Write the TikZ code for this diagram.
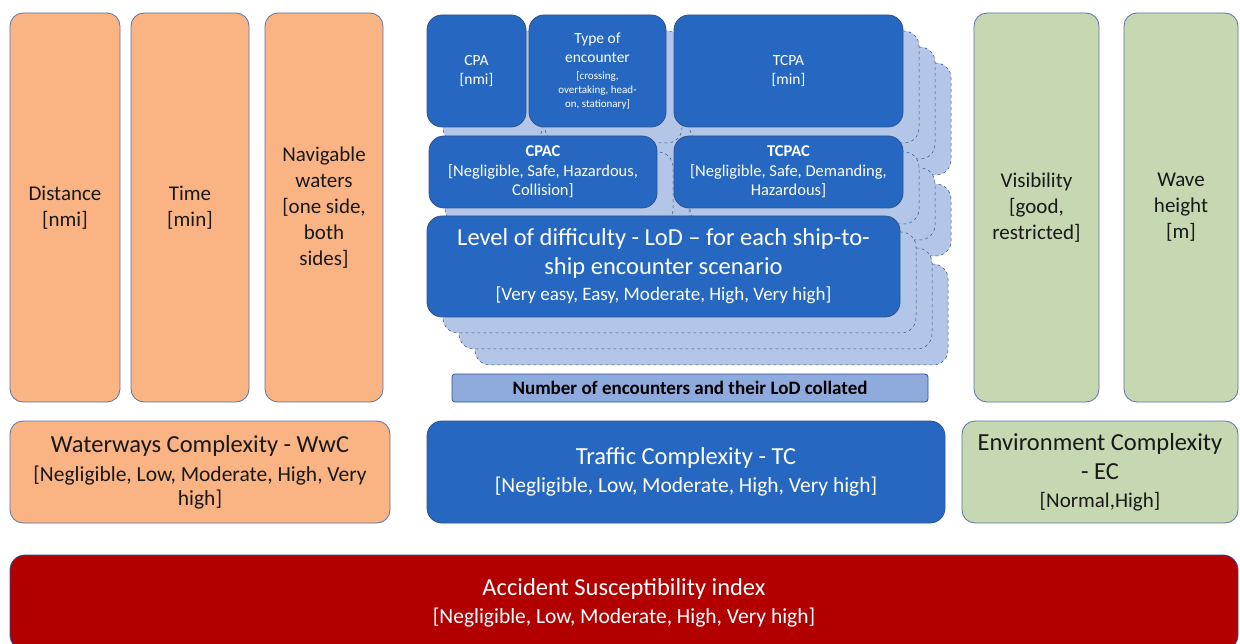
\documentclass[tikz,border=0pt]{standalone}
\usepackage{fontspec}
\setmainfont{Carlito}
\usetikzlibrary{positioning, backgrounds}

\definecolor{peach}{RGB}{250,180,132}
\definecolor{sage}{RGB}{197,216,178}
\definecolor{royal}{RGB}{38,104,193}
\definecolor{pale}{RGB}{180,198,231}
\definecolor{mid}{RGB}{143,170,220}
\definecolor{crimson}{RGB}{178,0,0}
\definecolor{edge}{RGB}{90,115,170}
\definecolor{navy}{RGB}{47,82,143}
\newcommand{\fs}[2]{\fontsize{#1}{#2}\selectfont}

\begin{document}
\begin{tikzpicture}[x=1pt, y=-1pt]
	\tikzstyle{box}=[rectangle, rounded corners=13pt, draw=edge, line width=0.8pt, align=center, inner sep=0pt, outer sep=0pt]
	\tikzstyle{factor}=[box, fill=peach, text=black!90, minimum height=389pt, font=\fs{21}{26}]
	\tikzstyle{envfactor}=[factor, fill=sage]
	\tikzstyle{traffic}=[box, fill=royal, draw=navy, text=white, rounded corners=15pt]
	\tikzstyle{stack}=[fill=pale, draw=navy, dashed, line width=0.5pt, rounded corners=15pt]
	\tikzstyle{summary}=[box, minimum height=102pt, text=black!90, font=\fs{21.5}{24}]
	\useasboundingbox (0,0) rectangle (1240,644);
	\node[factor, minimum width=110pt] (dist) at (65,207.5) {Distance\\{[nmi]}};
	\node[factor, minimum width=118pt, right=11pt of dist] (time) {Time\\{[min]}};
	\node[factor, minimum width=118pt, right=16pt of time] (navig) {Navigable\\waters\\{[one side,}\\both\\sides]};
	\node[envfactor, minimum width=125pt] (vis) at (1036.5,207.5) {Visibility\\{[good,}\\restricted]};
	\node[envfactor, minimum width=114pt, right=25pt of vis] (wave) {Wave\\height\\{[m]}};
	\node[traffic, minimum width=99pt, minimum height=112pt, font=\fs{15.5}{19}] (cpa) at (476.5,71) {CPA\\{[nmi]}};
	\node[traffic, minimum width=137pt, minimum height=112pt, font=\fs{15.5}{19}, right=3pt of cpa] (enc) {Type of\\encounter\\[-2pt]\fs{11}{14}[crossing,\\[-5pt]\fs{11}{14}overtaking, head-\\[-5pt]\fs{11}{14}on, stationary]};
	\node[traffic, minimum width=229pt, minimum height=112pt, font=\fs{15.5}{19}, right=8pt of enc] (tcpa) {TCPA\\{[min]}};
	\node[traffic, minimum width=228pt, minimum height=72pt, font=\fs{16.5}{19.5}] (cpac) at (543,172) {\bfseries CPAC\\{[Negligible, Safe, Hazardous,}\\Collision]};
	\node[traffic, minimum width=229pt, minimum height=72pt, font=\fs{16.5}{19.5}, right=17pt of cpac] (tcpac) {\bfseries TCPAC\\{[Negligible, Safe, Demanding,}\\Hazardous]};
	\node[traffic, minimum width=473pt, minimum height=101pt, font=\fs{24.5}{29}] (lod) at (663.5,266.5) {Level of difficulty - LoD -- for each ship-to-\\ship encounter scenario\\[-3pt]\fs{19}{22}[Very easy, Easy, Moderate, High, Very high]};
	\node[box, fill=mid, draw=navy, minimum width=476pt, minimum height=28pt, rounded corners=3pt, font=\bfseries\fs{19}{22}] (count) at (690,388) {Number of encounters and their LoD collated};
	\node[summary, fill=peach, minimum width=380pt] (wwc) at (200,472) {\fs{24.5}{29}Waterways Complexity - WwC\\[5pt]{[Negligible, Low, Moderate, High, Very}\\high]};
	\node[summary, traffic, minimum width=518pt, right=37pt of wwc] (tc) {\fs{24.5}{29}Traffic Complexity - TC\\[4pt]{[Negligible, Low, Moderate, High, Very high]}};
	\node[summary, fill=sage, minimum width=276pt, font=\fs{24.5}{29}, right=17pt of tc] (ec) {Environment Complexity\\- EC\\[-1pt]\fs{21}{24}[Normal,High]};
	\node[box, fill=crimson, draw=navy, text=white, minimum width=1228pt, minimum height=95pt, rounded corners=15pt, font=\fs{21.5}{24}] (acc) at (624,602.5) {\fs{24.5}{29}Accident Susceptibility index\\[4pt]{[Negligible, Low, Moderate, High, Very high]}};
	\begin{scope}[on background layer]
		\fill[white] (0,0) rectangle (1240,644);
		\foreach \k in {48,32,16}
			\foreach \n in {cpa,enc,tcpa,cpac,tcpac,lod}
				\draw[stack] ([shift={(\k,\k)}]\n.north west) rectangle ([shift={(\k,\k)}]\n.south east);
	\end{scope}
\end{tikzpicture}
\end{document}
